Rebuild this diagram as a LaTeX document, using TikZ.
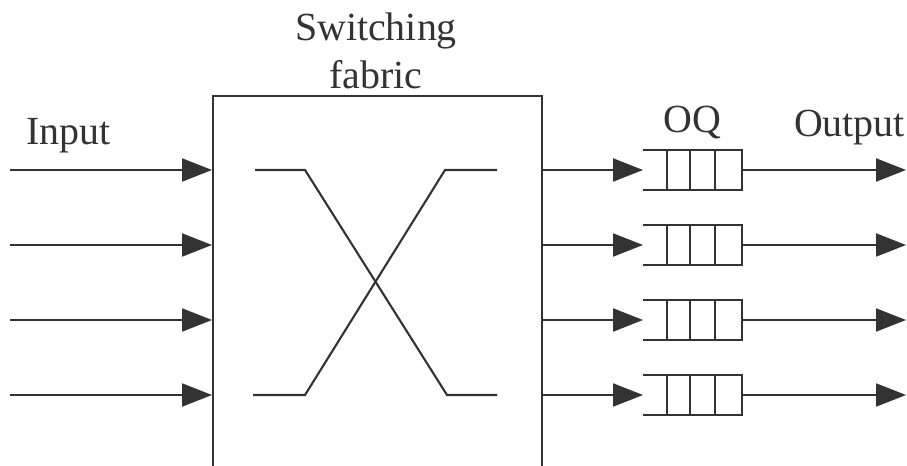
\documentclass[tikz,border=0pt]{standalone}
\usepackage{fontspec}
\setmainfont{Liberation Serif}
\usetikzlibrary{arrows.meta,positioning}
\begin{document}
\begin{tikzpicture}[line width=1.2pt, color=black!80,
    flow/.style={-{Triangle[length=0.6cm,width=0.46cm]}},
    lbl/.style={font=\fontsize{22.7}{27.3}\selectfont, inner sep=0pt}]
    \useasboundingbox (0,0) rectangle (18.14,9.3);
    \clip (0,0) rectangle (18.14,9.3);
    % switch box, open at the bottom edge
    \node[draw, minimum width=6.58cm, minimum height=8cm, inner sep=0pt, anchor=north west] (fabric) at (4.24,7.4) {};
    \node[lbl, anchor=north, align=center] (fablbl) at (7.52,9.06) {Switching\\fabric};
    % ports and output queues
    \foreach \y [count=\i] in {5.9,4.4,2.9,1.4} {
      \coordinate (in\i) at (0.2,\y);
      \draw[flow] (in\i) -- (in\i -| fabric.west);
      \node[minimum width=1.94cm, minimum height=0.76cm, inner sep=0pt, anchor=west] (oq\i) at (12.86,\y) {};
      \draw[flow] (in\i -| fabric.east) -- (oq\i.west);
      \draw (oq\i.north west) -- (oq\i.north east) -- (oq\i.south east) -- (oq\i.south west);
      \foreach \d in {13.34,13.8,14.3}
        \draw (\d,0 |- oq\i.north) -- (\d,0 |- oq\i.south);
      \coordinate (out\i) at (18.12,\y);
      \draw[flow] (oq\i.east) -- (out\i);
    }
    % crossing paths inside the fabric
    \coordinate (a1) at (5.1,5.9);
    \coordinate (a2) at (6.1,5.9);
    \coordinate (b1) at (5.06,1.4);
    \coordinate (b2) at (6.1,1.4);
    \coordinate (c1) at (8.9,5.9);
    \coordinate (c2) at (9.94,5.9);
    \coordinate (d1) at (8.94,1.4);
    \coordinate (d2) at (9.94,1.4);
    \draw (a1) -- (a2) -- (d1) -- (d2);
    \draw (b1) -- (b2) -- (c1) -- (c2);
    % labels
    \node[lbl, anchor=base west] (inlbl) at (0.5,6.4) {Input};
    \node[lbl, anchor=base] (oqlbl) at (13.84,6.64) {OQ};
    \node[lbl, anchor=base west] (outlbl) at (15.86,6.56) {Output};
\end{tikzpicture}
\end{document}
